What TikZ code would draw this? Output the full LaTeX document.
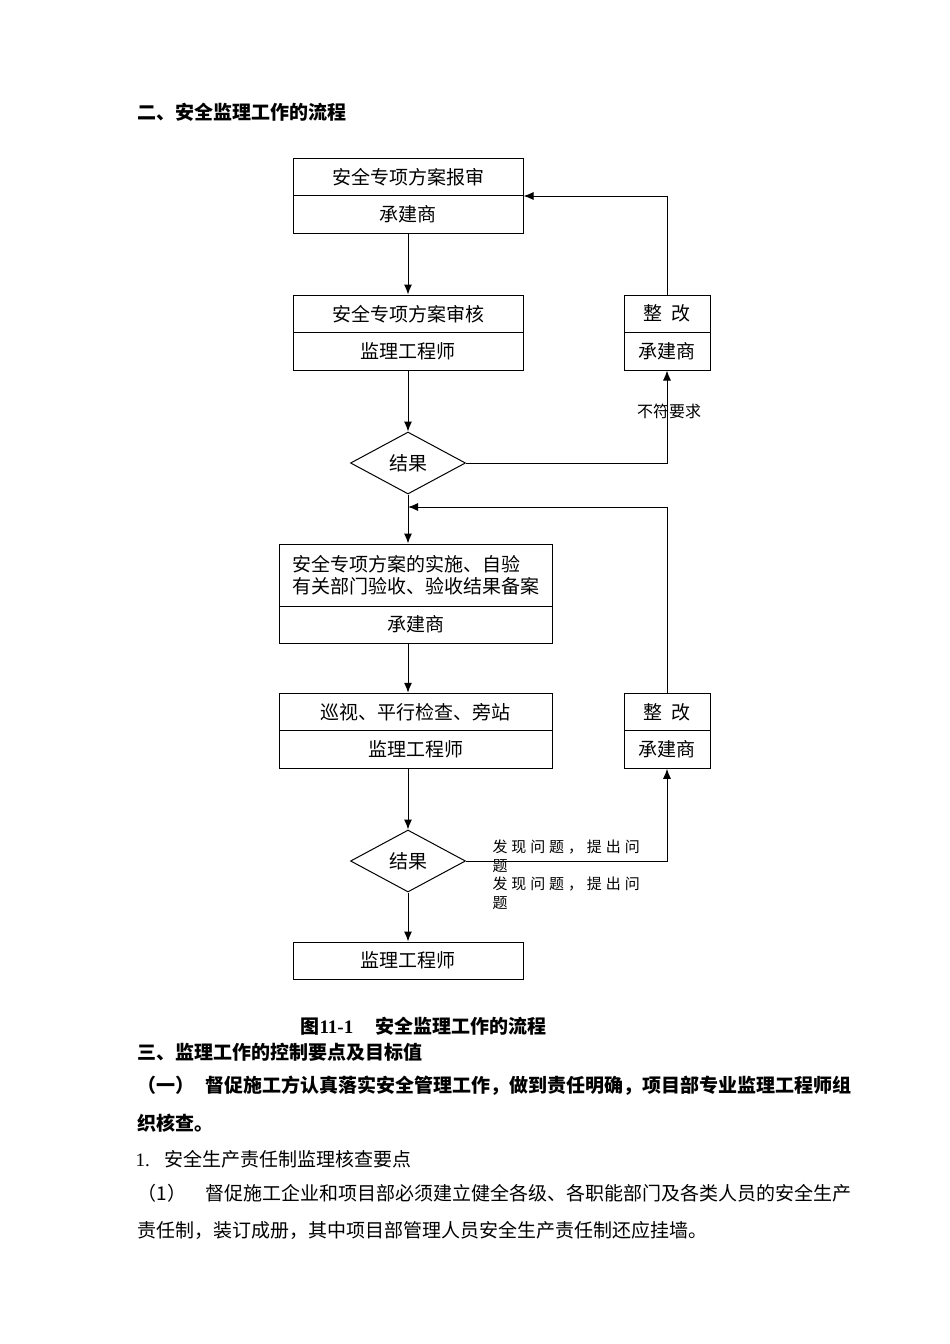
\documentclass[tikz,border=0pt]{standalone}
\usepackage{fontspec}
\setmainfont{Liberation Serif}
\newfontfamily\cjk{Noto Sans CJK SC}
\usetikzlibrary{shapes.geometric,arrows.meta,calc}

\begin{document}
\begin{tikzpicture}[x=1pt,y=-1pt,line width=1pt,>={Latex[length=10pt,width=8pt]},
  cell/.style={draw,minimum width=230,minimum height=37.5,inner sep=0pt,font=\cjk\fontsize{19}{22}\selectfont},
  widecell/.style={cell,minimum width=273},
  smallcell/.style={cell,minimum width=86},
  check/.style={draw,diamond,aspect=1.85,minimum width=115,minimum height=62,inner sep=0pt,font=\cjk\fontsize{19}{22}\selectfont},
  note/.style={inner sep=0pt,font=\cjk\fontsize{15}{17}\selectfont\addfontfeature{LetterSpace=26}},
  heading/.style={anchor=west,inner sep=0pt,font=\cjk\bfseries\fontsize{19}{21}\selectfont},
  body/.style={anchor=west,inner sep=0pt,font=\cjk\fontsize{19}{21}\selectfont}]

\useasboundingbox (0,0) rectangle (950,1344);

\node[heading] (title2) at (137,112) {二、安全监理工作的流程};

% upper part
\node[cell] (b1a) at (408,176.75) {安全专项方案报审};
\node[cell] (b1b) at (408,214.25) {承建商};
\node[cell] (b2a) at (408,313.75) {安全专项方案审核};
\node[cell] (b2b) at (408,351.25) {监理工程师};
\node[smallcell] (r1a) at (667,313.75) {整\hspace{0.5em}改};
\node[smallcell] (r1b) at (667,351.25) {承建商};
\node[check] (d1) at (408,463) {结果};
\node[inner sep=0pt,font=\cjk\fontsize{16}{18}\selectfont] (fail1) at (669,411) {不符要求};

\draw[->] (b1b) -- (b2a);
\draw[->] (b2b) -- (d1);
\draw[->] (d1.east) -| (r1b.south);
\draw[->] (r1a.north) |- (b1a.south east);

% lower part
\node[widecell,minimum height=62,align=left] (b3a) at (415.5,575) {安全专项方案的实施、自验\\有关部门验收、验收结果备案};
\node[widecell,minimum height=37] (b3b) at (415.5,624.5) {承建商};
\node[widecell] (b4a) at (415.5,712) {巡视、平行检查、旁站};
\node[widecell] (b4b) at (415.5,749.5) {监理工程师};
\node[smallcell] (r2a) at (667,712) {整\hspace{0.5em}改};
\node[smallcell] (r2b) at (667,749.5) {承建商};
\node[check] (d2) at (408,861) {结果};
\node[cell,minimum height=37] (b5) at (408,960.5) {监理工程师};

\node[note,anchor=west] (issue1) at (492,847) {发现问题，提出问};
\node[note,anchor=west] (issue1b) at (492,866) {题};
\node[note,anchor=west] (issue2) at (492,884) {发现问题，提出问};
\node[note,anchor=west] (issue2b) at (492,903) {题};

\coordinate (back) at (408,507);
\draw[->] (d1) -- (d1 |- b3a.north);
\draw[->] (d1 |- b3b.south) -- (d1 |- b4a.north);
\draw[->] (d1 |- b4b.south) -- (d2);
\draw[->] (d2) -- (b5);
\draw[->] (d2.east) -| (r2b.south);
\draw[->] (r2a.north) |- (back);

\node[anchor=west,inner sep=0pt,font=\bfseries\fontsize{19}{21}\selectfont] (caption) at (300,1026) {{\cjk 图}11-1\hspace{22pt}{\cjk 安全监理工作的流程}};

% text below
\node[heading] (title3) at (137,1052) {三、监理工作的控制要点及目标值};
\node[heading] (item1) at (137,1086) {（一）\hspace{11pt}督促施工方认真落实安全管理工作，做到责任明确，项目部专业监理工程师组};
\node[heading] (item1b) at (137,1123) {织核查。};
\node[body] (sub1) at (135,1159) {{\rmfamily 1.}\hspace{15pt}安全生产责任制监理核查要点};
\node[body] (pt1) at (137,1193) {（1）\hspace{19pt}督促施工企业和项目部必须建立健全各级、各职能部门及各类人员的安全生产};
\node[body] (pt1b) at (137,1230) {责任制，装订成册，其中项目部管理人员安全生产责任制还应挂墙。};

\end{tikzpicture}
\end{document}
